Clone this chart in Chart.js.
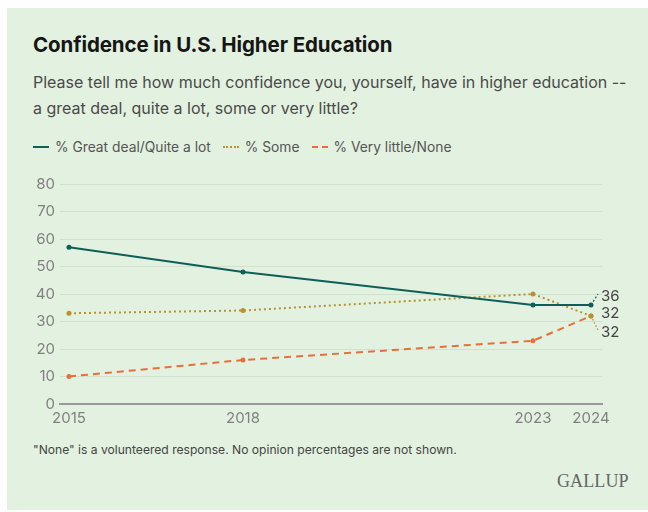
<!DOCTYPE html>
<html>
<head>
<meta charset="utf-8">
<script src="https://cdn.jsdelivr.net/npm/chart.js@4.4.1/dist/chart.umd.min.js"></script>
<style>
  html, body { margin: 0; padding: 0; background: #fff; }
  body { width: 648px; height: 512px; position: relative; overflow: hidden; font-family: Inter, 'Noto Sans', sans-serif; }
  #panel { position: absolute; left: 7px; top: 8px; width: 641px; height: 502px; background: #e3f1e0; }
  #chart { position: absolute; left: 0; top: 0; }
  .title { position: absolute; left: 33px; top: 32px; font-size: 20.5px; font-weight: 700; color: #161616; letter-spacing: -0.1px; }
  .subtitle { position: absolute; left: 33px; top: 69px; width: 612px; font-size: 16px; line-height: 26px; color: #4a4a4a; }
  .legend { position: absolute; left: 33px; top: 139px; font-size: 13.8px; color: #555; white-space: nowrap; }
  .legend span.item { display: inline-block; margin-right: 12px; }
  .legend i { display: inline-block; width: 16px; height: 0; vertical-align: middle; margin-right: 6px; position: relative; top: -1px; }
  .note { position: absolute; left: 33px; top: 442px; font-size: 12.1px; color: #444; }
  .brand { position: absolute; left: 557px; top: 471px; font-family: 'Liberation Serif', 'DejaVu Serif', serif; font-size: 18px; color: #666; letter-spacing: 0.1px; }
</style>
</head>
<body>
<div id="panel"></div>
<div class="title">Confidence in U.S. Higher Education</div>
<div class="subtitle">Please tell me how much confidence you, yourself, have in higher education --<br>a great deal, quite a lot, some or very little?</div>
<div class="legend" id="legend"></div>
<div class="note">"None" is a volunteered response. No opinion percentages are not shown.</div>
<div class="brand">GALLUP</div>
<canvas id="chart" width="648" height="512"></canvas>
<script>
/* -------------------- data -------------------- */
const years       = [2015, 2018, 2023, 2024];
const xTickYears  = [2015, 2018, 2023, 2024];
const yTicks      = [0, 10, 20, 30, 40, 50, 60, 70, 80];
const greatDeal   = [57, 48, 36, 36];
const some        = [33, 34, 40, 32];
const veryLittle  = [10, 16, 23, 32];
const seriesNames = ['% Great deal/Quite a lot', '% Some', '% Very little/None'];

/* -------------------- styles -------------------- */
const COLORS = {
  teal:   '#0e5f58',
  gold:   '#b8922e',
  orange: '#e86f3c',
  grid:   '#d2e1ce',
  axis:   '#9a9a9a',
  tick:   '#808080',
  label:  '#444'
};

const SERIES_STYLE = [
  { color: COLORS.teal,   dash: [],     legend: 'solid'  },
  { color: COLORS.gold,   dash: [2, 3], legend: 'dotted' },
  { color: COLORS.orange, dash: [7, 5], legend: 'dashed' }
];

// end label placement relative to the last point (leader: optional line end)
const END_LABELS = [
  { dx: 10, dy: -9,  leader: [7, -11], dash: [2, 2] },
  { dx: 10, dy: 16,  leader: [7, 14],  dash: [1.5, 2] },
  { dx: 10, dy: -3,  leader: null,     dash: [] }
];

/* -------------------- legend -------------------- */
const legendEl = document.getElementById('legend');
seriesNames.forEach((name, i) => {
  const s = SERIES_STYLE[i];
  const item = document.createElement('span');
  item.className = 'item';
  const mark = document.createElement('i');
  mark.style.borderTop = `2px ${s.legend} ${s.color}`;
  item.appendChild(mark);
  item.appendChild(document.createTextNode(name));
  legendEl.appendChild(item);
});

/* -------------------- chart -------------------- */
const toPoints = (vals) => years.map((x, i) => ({ x, y: vals[i] }));

const endLabelPlugin = {
  id: 'endLabels',
  afterDatasetsDraw(chart) {
    const ctx = chart.ctx;
    chart.data.datasets.forEach((ds, i) => {
      const meta = chart.getDatasetMeta(i);
      const pt = meta.data[meta.data.length - 1];
      if (!pt) return;
      const cfg = END_LABELS[i];
      ctx.save();
      if (cfg.leader) {
        ctx.strokeStyle = ds.borderColor;
        ctx.lineWidth = 1.2;
        ctx.setLineDash(cfg.dash);
        ctx.beginPath();
        ctx.moveTo(pt.x, pt.y);
        ctx.lineTo(pt.x + cfg.leader[0], pt.y + cfg.leader[1]);
        ctx.stroke();
      }
      ctx.setLineDash([]);
      ctx.fillStyle = COLORS.label;
      ctx.font = '15px Inter, "Noto Sans", sans-serif';
      ctx.textBaseline = 'middle';
      ctx.textAlign = 'left';
      ctx.fillText(String(ds.data[ds.data.length - 1].y), pt.x + cfg.dx, pt.y + cfg.dy);
      ctx.restore();
    });
  }
};

const makeDataset = (label, vals, style) => ({
  label,
  data: toPoints(vals),
  borderColor: style.color,
  backgroundColor: style.color,
  borderWidth: 2,
  borderDash: style.dash,
  pointRadius: 2.5,
  pointHoverRadius: 2.5,
  pointBorderWidth: 0,
  tension: 0
});

const datasets = [
  makeDataset(seriesNames[0], greatDeal,  SERIES_STYLE[0]),
  makeDataset(seriesNames[1], some,       SERIES_STYLE[1]),
  makeDataset(seriesNames[2], veryLittle, SERIES_STYLE[2])
];

new Chart(document.getElementById('chart').getContext('2d'), {
  type: 'line',
  data: { datasets },
  plugins: [endLabelPlugin],
  options: {
    responsive: false,
    animation: false,
    layout: { padding: { left: 0, right: 46, top: 184, bottom: 78 } },
    plugins: {
      legend: { display: false },
      tooltip: { enabled: false }
    },
    scales: {
      x: {
        type: 'linear',
        min: 2014.845,
        max: 2024.19,
        afterBuildTicks: (scale) => { scale.ticks = xTickYears.map((v) => ({ value: v })); },
        afterFit: (scale) => { scale.height = 30; },
        grid: { display: false, drawTicks: false },
        border: { display: true, color: COLORS.axis, width: 2 },
        ticks: {
          padding: 5,
          color: COLORS.tick,
          font: { family: 'Inter', size: 15 },
          maxRotation: 0,
          autoSkip: false,
          callback: (v) => String(v)
        }
      },
      y: {
        min: 0,
        max: 80,
        afterBuildTicks: (scale) => { scale.ticks = yTicks.map((v) => ({ value: v })); },
        afterFit: (scale) => { scale.width = 60; },
        grid: { color: COLORS.grid, lineWidth: 1, drawTicks: false },
        border: { display: false },
        ticks: {
          padding: 5,
          color: COLORS.tick,
          font: { family: 'Inter', size: 15 },
          callback: (v) => String(v)
        }
      }
    }
  }
});
</script>
</body>
</html>
